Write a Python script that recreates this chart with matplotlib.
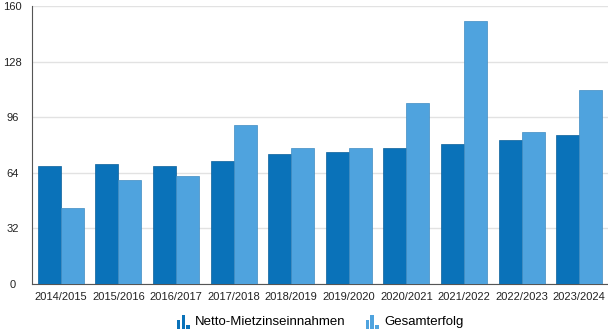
import matplotlib

matplotlib.use('Agg')

import matplotlib.pyplot as plt
import numpy as np
from matplotlib.legend_handler import HandlerBase
from matplotlib.patches import Rectangle

plt.rcParams.update({
    'font.family': ['Liberation Sans', 'DejaVu Sans'],
    'font.size': 8,
})

years = ['2014/2015', '2015/2016', '2016/2017', '2017/2018', '2018/2019',
         '2019/2020', '2020/2021', '2021/2022', '2022/2023', '2023/2024']
netto = [68.2, 68.8, 68.2, 70.9, 74.8, 75.9, 78.4, 80.3, 83.0, 85.9]
gesamt = [43.7, 59.8, 62.3, 91.6, 78.4, 78.4, 104.4, 151.4, 87.2, 111.7]
series_names = ['Netto-Mietzinseinnahmen', 'Gesamterfolg']
y_ticks = [0, 32, 64, 96, 128, 160]

dark = '#0a72b9'
light = '#4fa3de'


class BarIcon(HandlerBase):
    # small three-bar icon like the original legend
    def create_artists(self, legend, orig_handle, xdescent, ydescent,
                       width, height, fontsize, trans):
        col = orig_handle.get_facecolor()
        arts = []
        w = width / 4.0
        step = width / 2.7
        for i, h in enumerate([0.65, 1.0, 0.3]):
            r = Rectangle((-xdescent + i * step, -ydescent - 2), w, height * h * 1.35,
                          facecolor=col, edgecolor='none', transform=trans)
            arts.append(r)
        return arts


fig = plt.figure(figsize=(6.08, 3.33), dpi=100)
ax = fig.add_axes([32 / 608, 49 / 333, 576 / 608, 278 / 333])

x = np.arange(len(years))
bw = 0.4
b1 = ax.bar(x - bw / 2, netto, bw, color=dark, edgecolor='#0a5f9a', linewidth=0.5, zorder=3)
b2 = ax.bar(x + bw / 2, gesamt, bw, color=light, edgecolor='#3f8cc2', linewidth=0.5, zorder=3)

ax.set_xlim(-0.5, len(years) - 0.5)
ax.set_ylim(0, 160)
ax.set_yticks(y_ticks)
ax.set_yticklabels([str(t) for t in y_ticks])
for lab in ax.get_yticklabels():
    lab.set_horizontalalignment('center')
ax.tick_params(axis='y', length=0, pad=14, labelsize=8, labelcolor='#222222')
ax.set_xticks(x)
ax.set_xticklabels(years)
ax.tick_params(axis='x', length=0, pad=6, labelsize=8, labelcolor='#222222')

ax.grid(axis='y', color='#e2e2e2', linewidth=1, zorder=0)
for s in ['top', 'right']:
    ax.spines[s].set_visible(False)
ax.spines['left'].set_color('#555555')
ax.spines['bottom'].set_color('#555555')
ax.spines['left'].set_linewidth(0.8)
ax.spines['bottom'].set_linewidth(0.8)

h1 = Rectangle((0, 0), 1, 1, facecolor=dark)
h2 = Rectangle((0, 0), 1, 1, facecolor=light)
fig.legend([h1, h2], series_names, loc='center', bbox_to_anchor=(320 / 608, 11 / 333),
           ncol=2, frameon=False, fontsize=9.5, handlelength=1.0, handleheight=0.85,
           handletextpad=0.4, columnspacing=1.5,
           handler_map={Rectangle: BarIcon()})

fig.savefig('out.png', dpi=100)
